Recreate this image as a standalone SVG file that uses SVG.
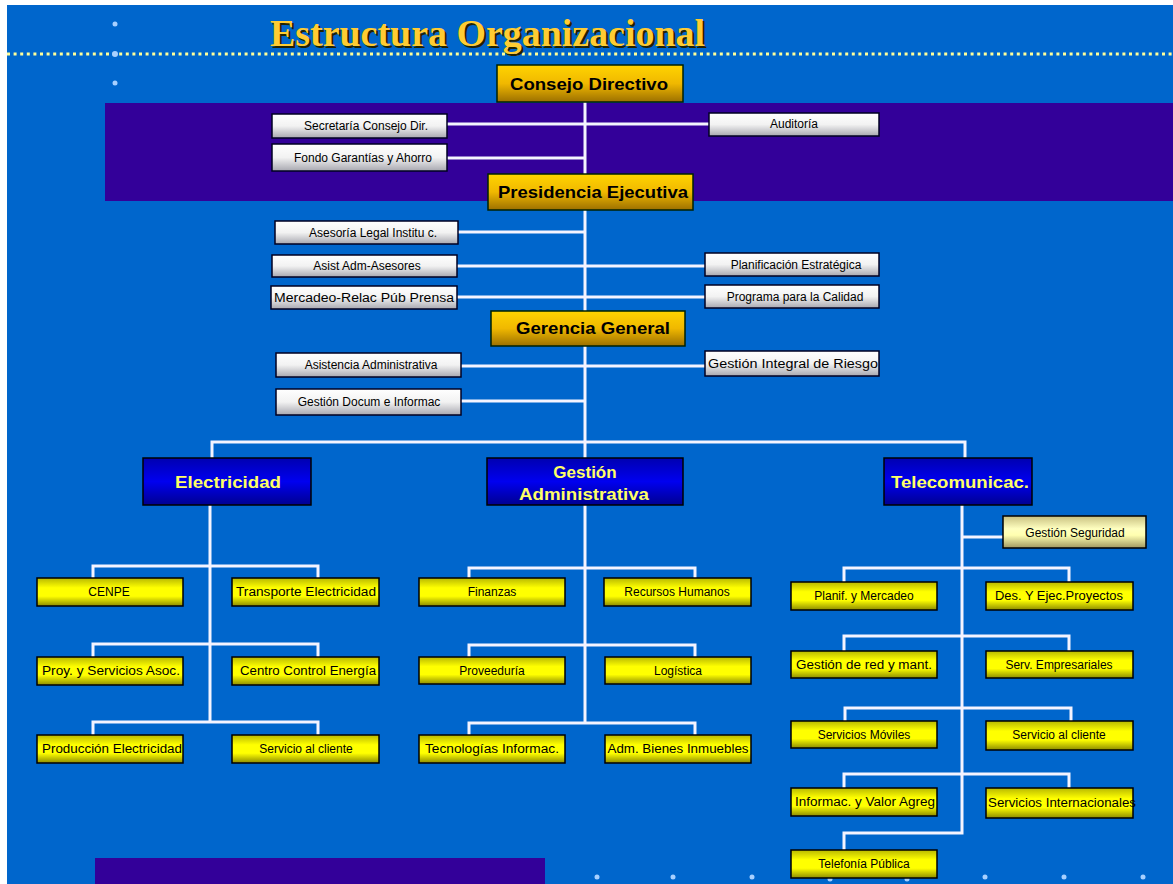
<svg xmlns="http://www.w3.org/2000/svg" width="1173" height="884" viewBox="0 0 1173 884">
<defs>
<linearGradient id="gw" x1="0" y1="0" x2="0" y2="1"><stop offset="0" stop-color="#FFFFFF"/><stop offset="0.5" stop-color="#F2F2F2"/><stop offset="1" stop-color="#A8A8B0"/></linearGradient>
<linearGradient id="gy" x1="0" y1="0" x2="0" y2="1"><stop offset="0" stop-color="#B8B800"/><stop offset="0.35" stop-color="#FFFF00"/><stop offset="0.65" stop-color="#FFFF00"/><stop offset="1" stop-color="#8C8C00"/></linearGradient>
<linearGradient id="gp" x1="0" y1="0" x2="0" y2="1"><stop offset="0" stop-color="#C8C080"/><stop offset="0.4" stop-color="#FFFFC0"/><stop offset="0.6" stop-color="#FFFFB0"/><stop offset="1" stop-color="#A09860"/></linearGradient>
<linearGradient id="gg" x1="0" y1="0" x2="0" y2="1"><stop offset="0" stop-color="#FFD400"/><stop offset="0.5" stop-color="#F0B800"/><stop offset="1" stop-color="#9C7000"/></linearGradient>
<linearGradient id="gb" x1="0" y1="0" x2="0" y2="1"><stop offset="0" stop-color="#0000B0"/><stop offset="0.5" stop-color="#0000F0"/><stop offset="1" stop-color="#000090"/></linearGradient>
<style>
.wbox{fill:url(#gw);stroke:#000022;stroke-width:1.5}
.ybox{fill:url(#gy);stroke:#000000;stroke-width:1.5}
.pbox{fill:url(#gp);stroke:#000000;stroke-width:1.5}
.gbox{fill:url(#gg);stroke:#002200;stroke-width:1.5}
.bbox{fill:url(#gb);stroke:#000000;stroke-width:1.5}
.t{font-family:"Liberation Sans",Arial,sans-serif;font-size:12px;fill:#000;text-anchor:middle}
.h{font-family:"Liberation Sans",Arial,sans-serif;font-weight:bold;font-size:17px;fill:#000;text-anchor:middle}
.hb{font-family:"Liberation Sans",Arial,sans-serif;font-weight:bold;font-size:17px;fill:#FFFF66;text-anchor:middle}
.ln{stroke:#F4F4FF;stroke-width:3;fill:none}
.mk{fill:#A8D0FF}
</style>
</defs>
<rect x="0" y="0" width="1173" height="884" fill="#FFFFFF"/>
<rect x="7" y="5" width="1166" height="879" fill="#0066CC"/>
<rect x="105" y="103" width="1068" height="98" fill="#330099"/>
<rect x="95" y="858" width="450" height="26" fill="#330099"/>
<line x1="7" y1="54" x2="1173" y2="54" stroke="#FFFF99" stroke-width="3" stroke-dasharray="3 3.6"/>
<g id="markers">
<circle class="mk" cx="115" cy="24" r="2.5"/><circle class="mk" cx="115" cy="54" r="3"/><circle class="mk" cx="115" cy="83" r="2.5"/>
<circle class="mk" cx="597" cy="877" r="2.5"/><circle class="mk" cx="673" cy="877" r="2.5"/><circle class="mk" cx="752" cy="877" r="2.5"/><circle class="mk" cx="830" cy="879" r="2.5"/><circle class="mk" cx="907" cy="879" r="2.5"/><circle class="mk" cx="985" cy="877" r="2.5"/><circle class="mk" cx="1064" cy="877" r="2.5"/><circle class="mk" cx="1143" cy="877" r="2.5"/>
</g>
<g id="title">
<text x="272" y="48" font-family="Liberation Serif,Times New Roman,serif" font-weight="bold" font-size="38" fill="#222200" textLength="435" lengthAdjust="spacingAndGlyphs">Estructura Organizacional</text>
<text x="270" y="46" font-family="Liberation Serif,Times New Roman,serif" font-weight="bold" font-size="38" fill="#FFCC33" textLength="435" lengthAdjust="spacingAndGlyphs">Estructura Organizacional</text>
</g>
<g id="connectors">
<path class="ln" d="M585 102 V458"/>
<path class="ln" d="M447 124 H709"/>
<path class="ln" d="M447 158 H585"/>
<path class="ln" d="M458 232 H585"/>
<path class="ln" d="M457 266 H705"/>
<path class="ln" d="M457 297 H705"/>
<path class="ln" d="M461 366 H705"/>
<path class="ln" d="M461 401 H585"/>
<path class="ln" d="M212 458 V442 H965 V458"/>
<path class="ln" d="M210 505 V722"/>
<path class="ln" d="M93 579 V566 H318 V579"/>
<path class="ln" d="M93 657 V644 H318 V657"/>
<path class="ln" d="M93 735 V722 H318 V735"/>
<path class="ln" d="M585 505 V723"/>
<path class="ln" d="M469 578 V568 H695 V578"/>
<path class="ln" d="M469 657 V645 H695 V657"/>
<path class="ln" d="M469 735 V723 H695 V735"/>
<path class="ln" d="M962 505 V833 H844 V850"/>
<path class="ln" d="M962 537 H1003"/>
<path class="ln" d="M844 582 V568 H1069 V582"/>
<path class="ln" d="M844 651 V636 H1069 V651"/>
<path class="ln" d="M845 721 V708 H1071 V721"/>
<path class="ln" d="M844 788 V774 H1069 V788"/>
</g>
<g id="consejo"><rect class="gbox" x="497" y="65" width="186" height="37"/><text class="h" x="589" y="90" textLength="158" lengthAdjust="spacingAndGlyphs">Consejo Directivo</text></g>
<g id="presidencia"><rect class="gbox" x="488" y="174" width="205" height="36"/><text class="h" x="593" y="198" textLength="190" lengthAdjust="spacingAndGlyphs">Presidencia Ejecutiva</text></g>
<g id="gerencia"><rect class="gbox" x="491" y="311" width="194" height="35"/><text class="h" x="593" y="334" textLength="154" lengthAdjust="spacingAndGlyphs">Gerencia General</text></g>
<g id="secretaria"><rect class="wbox" x="272" y="114" width="175" height="24"/><text class="t" x="366" y="130">Secretaría Consejo Dir.</text></g>
<g id="fondo"><rect class="wbox" x="272" y="144" width="175" height="27"/><text class="t" x="363" y="162">Fondo Garantías y Ahorro</text></g>
<g id="auditoria"><rect class="wbox" x="709" y="113" width="170" height="23"/><text class="t" x="794" y="128">Auditoría</text></g>
<g id="asesoria"><rect class="wbox" x="275" y="221" width="183" height="23"/><text class="t" x="373" y="237">Asesoría Legal Institu c.</text></g>
<g id="asist"><rect class="wbox" x="272" y="255" width="185" height="22"/><text class="t" x="367" y="270">Asist Adm-Asesores</text></g>
<g id="mercadeo"><rect class="wbox" x="271" y="286" width="186" height="23"/><text class="t" x="364" y="302" textLength="180" lengthAdjust="spacingAndGlyphs">Mercadeo-Relac Púb Prensa</text></g>
<g id="planificacion"><rect class="wbox" x="705" y="253" width="174" height="23"/><text class="t" x="796" y="269">Planificación Estratégica</text></g>
<g id="programa"><rect class="wbox" x="705" y="285" width="174" height="23"/><text class="t" x="795" y="301">Programa para la Calidad</text></g>
<g id="asistencia"><rect class="wbox" x="276" y="353" width="185" height="24"/><text class="t" x="371" y="369">Asistencia Administrativa</text></g>
<g id="riesgo"><rect class="wbox" x="705" y="351" width="174" height="25"/><text class="t" x="793" y="368" textLength="170" lengthAdjust="spacingAndGlyphs">Gestión Integral de Riesgo</text></g>
<g id="docum"><rect class="wbox" x="276" y="389" width="185" height="26"/><text class="t" x="369" y="406">Gestión Docum e Informac</text></g>
<g id="electricidad"><rect class="bbox" x="143" y="458" width="168" height="47"/><text class="hb" x="228" y="488" textLength="106" lengthAdjust="spacingAndGlyphs">Electricidad</text></g>
<g id="gestionadm"><rect class="bbox" x="487" y="458" width="196" height="47"/><text class="hb" x="585" y="478">Gestión</text><text class="hb" x="584" y="500" textLength="130" lengthAdjust="spacingAndGlyphs">Administrativa</text></g>
<g id="telecom"><rect class="bbox" x="884" y="458" width="148" height="47"/><text class="hb" x="960" y="488" textLength="138" lengthAdjust="spacingAndGlyphs">Telecomunicac.</text></g>
<g id="cenpe"><rect class="ybox" x="37" y="578" width="146" height="28"/><text class="t" x="109" y="596">CENPE</text></g>
<g id="transporte"><rect class="ybox" x="232" y="578" width="147" height="28"/><text class="t" x="306" y="596" textLength="140" lengthAdjust="spacingAndGlyphs">Transporte Electricidad</text></g>
<g id="proy"><rect class="ybox" x="37" y="657" width="146" height="28"/><text class="t" x="111" y="675" textLength="138" lengthAdjust="spacingAndGlyphs">Proy. y Servicios Asoc.</text></g>
<g id="centro"><rect class="ybox" x="232" y="657" width="147" height="28"/><text class="t" x="308" y="675" textLength="136" lengthAdjust="spacingAndGlyphs">Centro Control Energía</text></g>
<g id="produccion"><rect class="ybox" x="37" y="735" width="146" height="28"/><text class="t" x="112" y="753" textLength="140" lengthAdjust="spacingAndGlyphs">Producción Electricidad</text></g>
<g id="servcliente1"><rect class="ybox" x="232" y="735" width="147" height="28"/><text class="t" x="306" y="753">Servicio al cliente</text></g>
<g id="finanzas"><rect class="ybox" x="419" y="578" width="146" height="28"/><text class="t" x="492" y="596">Finanzas</text></g>
<g id="rrhh"><rect class="ybox" x="604" y="578" width="147" height="28"/><text class="t" x="677" y="596">Recursos Humanos</text></g>
<g id="proveeduria"><rect class="ybox" x="419" y="657" width="146" height="27"/><text class="t" x="492" y="675">Proveeduría</text></g>
<g id="logistica"><rect class="ybox" x="605" y="657" width="146" height="27"/><text class="t" x="678" y="675">Logística</text></g>
<g id="tecnologias"><rect class="ybox" x="419" y="735" width="146" height="28"/><text class="t" x="492" y="753" textLength="134" lengthAdjust="spacingAndGlyphs">Tecnologías Informac.</text></g>
<g id="bienes"><rect class="ybox" x="605" y="735" width="146" height="28"/><text class="t" x="678" y="753" textLength="141" lengthAdjust="spacingAndGlyphs">Adm. Bienes Inmuebles</text></g>
<g id="seguridad"><rect class="pbox" x="1003" y="516" width="143" height="32"/><text class="t" x="1075" y="537">Gestión Seguridad</text></g>
<g id="planif"><rect class="ybox" x="791" y="582" width="146" height="28"/><text class="t" x="864" y="600">Planif. y Mercadeo</text></g>
<g id="desejec"><rect class="ybox" x="986" y="582" width="147" height="28"/><text class="t" x="1059" y="600" textLength="128" lengthAdjust="spacingAndGlyphs">Des. Y Ejec.Proyectos</text></g>
<g id="gestionred"><rect class="ybox" x="791" y="651" width="146" height="27"/><text class="t" x="864" y="669" textLength="136" lengthAdjust="spacingAndGlyphs">Gestión de red y mant.</text></g>
<g id="servemp"><rect class="ybox" x="986" y="651" width="147" height="27"/><text class="t" x="1059" y="669">Serv. Empresariales</text></g>
<g id="moviles"><rect class="ybox" x="791" y="721" width="146" height="27"/><text class="t" x="864" y="739">Servicios Móviles</text></g>
<g id="servcliente2"><rect class="ybox" x="986" y="721" width="147" height="29"/><text class="t" x="1059" y="739">Servicio al cliente</text></g>
<g id="informac"><rect class="ybox" x="791" y="788" width="146" height="28"/><text class="t" x="865" y="806" textLength="140" lengthAdjust="spacingAndGlyphs">Informac. y Valor Agreg</text></g>
<g id="internacionales"><rect class="ybox" x="986" y="788" width="147" height="30"/><text class="t" x="1062" y="807" textLength="148" lengthAdjust="spacingAndGlyphs">Servicios Internacionales</text></g>
<g id="telefonia"><rect class="ybox" x="791" y="850" width="146" height="28"/><text class="t" x="864" y="868">Telefonía Pública</text></g>
</svg>
